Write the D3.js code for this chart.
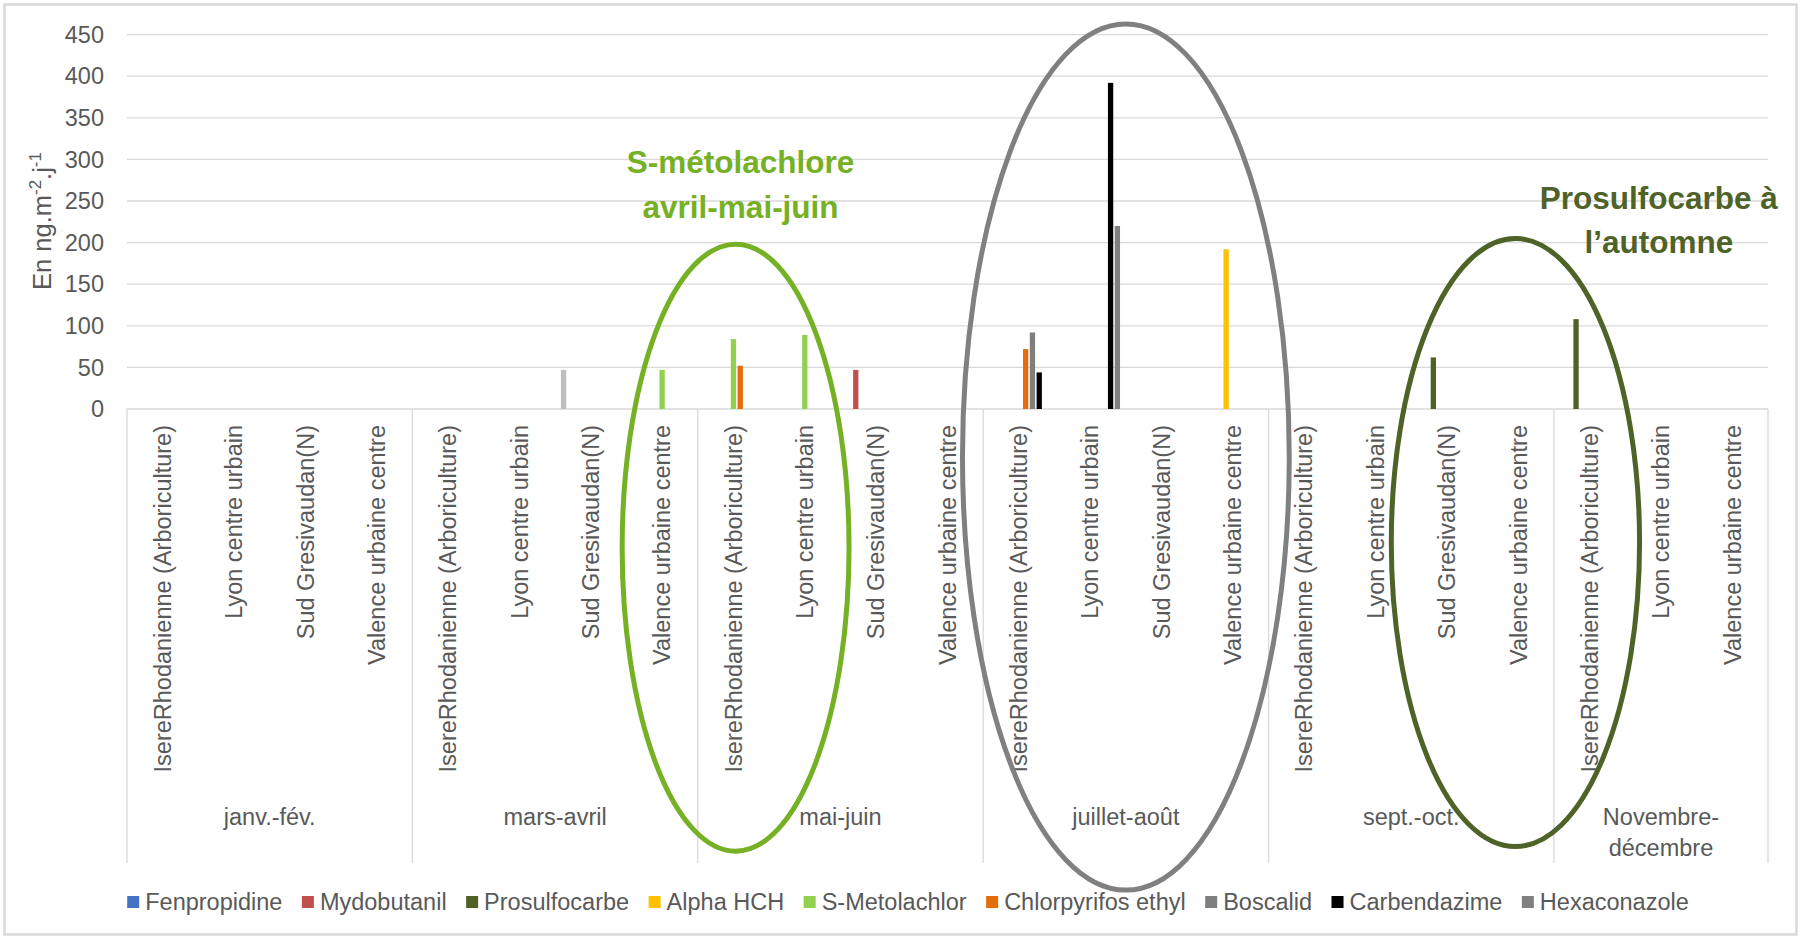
<!DOCTYPE html>
<html>
<head>
<meta charset="utf-8">
<script src="https://cdn.jsdelivr.net/npm/d3@7"></script>
<style>
  html, body { margin: 0; padding: 0; background: #fff; }
  svg { display: block; }
  text { font-family: "Liberation Sans", Arial, sans-serif; fill: #595959; }
</style>
</head>
<body>
<svg id="chart" width="1806" height="939"></svg>
<script>
// ---- Data -------------------------------------------------------------
const periods = ["janv.-fév.", "mars-avril", "mai-juin", "juillet-août", "sept.-oct.", "Novembre-décembre"];
const sites = ["IsereRhodanienne (Arboriculture)", "Lyon centre urbain", "Sud Gresivaudan(N)", "Valence urbaine centre"];
const novDecSites = ["IsereRhodanienne (Arboriculture)", "Lyon centre urbain", "Valence urbaine centre"];

const substances = ["Fenpropidine", "Mydobutanil", "Prosulfocarbe", "Alpha HCH", "S-Metolachlor",
                    "Chlorpyrifos ethyl", "Boscalid", "Carbendazime", "Hexaconazole"];

const _ = null;
// one value per period/site column (23 columns), in ng.m-2.j-1
//                  janv.-fév.     mars-avril      mai-juin        juillet-août     sept.-oct.      Nov.-déc.
const fenpropidine  = [_, _, _, _,   _, _, 47, _,    _, _, _, _,     _, _, _, _,      _, _, _, _,     _, _, _];
const mydobutanil   = [_, _, _, _,   _, _, _, _,     _, _, 47, _,    _, _, _, _,      _, _, _, _,     _, _, _];
const prosulfocarbe = [_, _, _, _,   _, _, _, _,     _, _, _, _,     _, _, _, _,      _, _, 62, _,    108, _, _];
const alphaHCH      = [_, _, _, _,   _, _, _, _,     _, _, _, _,     _, _, _, 192,    _, _, _, _,     _, _, _];
const sMetolachlor  = [_, _, _, _,   _, _, _, 47,    84, 89, _, _,   _, _, _, _,      _, _, _, _,     _, _, _];
const chlorpyrifos  = [_, _, _, _,   _, _, _, _,     52, _, _, _,    72, _, _, _,     _, _, _, _,     _, _, _];
const boscalid      = [_, _, _, _,   _, _, _, _,     _, _, _, _,     92, _, _, _,     _, _, _, _,     _, _, _];
const carbendazime  = [_, _, _, _,   _, _, _, _,     _, _, _, _,     44, 392, _, _,   _, _, _, _,     _, _, _];
const hexaconazole  = [_, _, _, _,   _, _, _, _,     _, _, _, _,     _, 220, _, _,    _, _, _, _,     _, _, _];

const seriesValues = [fenpropidine, mydobutanil, prosulfocarbe, alphaHCH, sMetolachlor,
                      chlorpyrifos, boscalid, carbendazime, hexaconazole];

const yTicks = [0, 50, 100, 150, 200, 250, 300, 350, 400, 450];

// ---- Styles -------------------------------------------------------------
const seriesColors = ["#4472C4", "#C0504D", "#4F6228", "#FFC000", "#92D050",
                      "#E46C0A", "#7F7F7F", "#000000", "#808080"];
// single point drawn in a lighter grey
const pointFillOverride = { "Fenpropidine|6": "#BFBFBF" };

// ---- Layout -------------------------------------------------------------
const svg = d3.select("#chart");
const W = 1806, H = 939;
const plot = { left: 127, right: 1768, top: 34.6, bottom: 409 };
const GRID = "#D9D9D9";
const FS = 23.5;

const categories = periods.flatMap(p =>
  (p === "Novembre-décembre" ? novDecSites : sites).map(s => ({ period: p, site: s })));

const x0 = d3.scaleBand().domain(d3.range(categories.length))
  .range([plot.left, plot.right]).paddingInner(0).paddingOuter(0);
const xLin = d3.scaleLinear().domain([0, categories.length]).range([plot.left, plot.right]);
const x1 = d3.scaleBand().domain(substances).range([0, x0.bandwidth()])
  .paddingInner(0.22).paddingOuter(0.86);
const y = d3.scaleLinear().domain([0, 450]).range([plot.bottom, plot.top]);

// frame
svg.append("rect").attr("x", 0).attr("y", 0).attr("width", W).attr("height", H).attr("fill", "#fff");
svg.append("rect").attr("x", 4.5).attr("y", 4.5).attr("width", 1792).attr("height", 930)
  .attr("fill", "#fff").attr("stroke", "#D9D9D9").attr("stroke-width", 2.5);

// gridlines + y tick labels
const gy = svg.append("g");
gy.selectAll("line").data(yTicks.filter(t => t > 0)).join("line")
  .attr("x1", plot.left).attr("x2", plot.right)
  .attr("y1", d => y(d)).attr("y2", d => y(d))
  .attr("stroke", GRID).attr("stroke-width", 1.3);
gy.selectAll("text").data(yTicks).join("text")
  .attr("x", 104).attr("y", d => y(d)).attr("dy", "0.35em")
  .attr("text-anchor", "end").attr("font-size", FS).text(d => d);

// y axis title
const yt = svg.append("text")
  .attr("transform", `translate(51,221) rotate(-90)`)
  .attr("text-anchor", "middle").attr("font-size", 25.5);
yt.append("tspan").text("En ng.m");
yt.append("tspan").attr("dy", -10).attr("font-size", 17).text("-2");
yt.append("tspan").attr("dy", 10).text(".j");
yt.append("tspan").attr("dy", -10).attr("font-size", 17).text("-1");

// baseline and period separators
svg.append("line").attr("x1", plot.left).attr("x2", plot.right)
  .attr("y1", y(0)).attr("y2", y(0)).attr("stroke", GRID).attr("stroke-width", 1.3);

const periodStart = [];
categories.forEach((c, i) => { if (i === 0 || categories[i - 1].period !== c.period) periodStart.push(i); });
const boundaries = periodStart.concat([categories.length]);
svg.append("g").selectAll("line").data(boundaries).join("line")
  .attr("x1", d => xLin(d)).attr("x2", d => xLin(d))
  .attr("y1", y(0)).attr("y2", 863)
  .attr("stroke", GRID).attr("stroke-width", 1.3);

// category labels (rotated)
svg.append("g").selectAll("text").data(categories).join("text")
  .attr("transform", (d, i) => `translate(${x0(i) + x0.bandwidth() / 2},425) rotate(-90)`)
  .attr("text-anchor", "end").attr("dy", "0.35em").attr("font-size", FS)
  .text(d => d.site);

// period labels
const periodInfo = periodStart.map((s, k) => ({ name: periods[k], start: s, end: boundaries[k + 1] }));
const pl = svg.append("g").selectAll("text").data(periodInfo).join("text")
  .attr("x", d => xLin((d.start + d.end) / 2))
  .attr("y", 817).attr("dy", "0.35em").attr("text-anchor", "middle").attr("font-size", FS);
pl.each(function (d) {
  const t = d3.select(this);
  if (d.name === "Novembre-décembre") {
    const cx = xLin((d.start + d.end) / 2);
    t.append("tspan").attr("x", cx).text("Novembre-");
    t.append("tspan").attr("x", cx).attr("dy", 31).text("décembre");
  } else {
    t.text(d.name);
  }
});

// bars
const barData = [];
substances.forEach((s, si) => {
  seriesValues[si].forEach((v, ci) => {
    if (v !== null) barData.push({ substance: s, si, ci, value: v });
  });
});
svg.append("g").selectAll("rect").data(barData).join("rect")
  .attr("x", d => x0(d.ci) + x1(d.substance))
  .attr("width", x1.bandwidth())
  .attr("y", d => y(d.value))
  .attr("height", d => y(0) - y(d.value))
  .attr("fill", d => pointFillOverride[`${d.substance}|${d.ci}`] || seriesColors[d.si]);

// legend
const legend = svg.append("g");
let lx = 0;
substances.forEach((s, i) => {
  const g = legend.append("g").attr("transform", `translate(${lx},0)`);
  g.append("rect").attr("x", 0).attr("y", 896).attr("width", 12).attr("height", 12)
    .attr("fill", seriesColors[i]);
  const t = g.append("text").attr("x", 18).attr("y", 902).attr("dy", "0.35em")
    .attr("font-size", FS).text(s);
  lx += 18 + t.node().getComputedTextLength() + 19.5;
});
const legendWidth = lx - 19.5;
legend.attr("transform", `translate(${908 - legendWidth / 2},0)`);

// highlight ellipses and their captions
const highlights = [
  { cat: 8.53, val: -166.7, rxCat: 1.59, ryVal: 364.8, color: "#76B024" },
  { cat: 14.0, val: -57.7, rxCat: 2.29, ryVal: 520.5, color: "#808080" },
  { cat: 19.46, val: -160.5, rxCat: 1.74, ryVal: 365.4, color: "#4F6228" }
];
svg.append("g").selectAll("ellipse").data(highlights).join("ellipse")
  .attr("cx", d => xLin(d.cat))
  .attr("cy", d => y(d.val))
  .attr("rx", d => xLin(d.rxCat) - xLin(0))
  .attr("ry", d => y(0) - y(d.ryVal))
  .attr("fill", "none").attr("stroke", d => d.color).attr("stroke-width", 5);

const captions = [
  { lines: ["S-métolachlore", "avril-mai-juin"], cat: 8.6, vals: [283.7, 229.6], color: "#76B024" },
  { lines: ["Prosulfocarbe à", "l\u2019automne"], cat: 21.47, vals: [240.4, 187.5], color: "#4F6228" }
];
captions.forEach(c => {
  c.lines.forEach((ln, k) => {
    svg.append("text")
      .attr("x", xLin(c.cat)).attr("y", y(c.vals[k]))
      .attr("text-anchor", "middle").attr("font-size", 31.5).attr("font-weight", "bold")
      .style("fill", c.color).text(ln);
  });
});
</script>
</body>
</html>
